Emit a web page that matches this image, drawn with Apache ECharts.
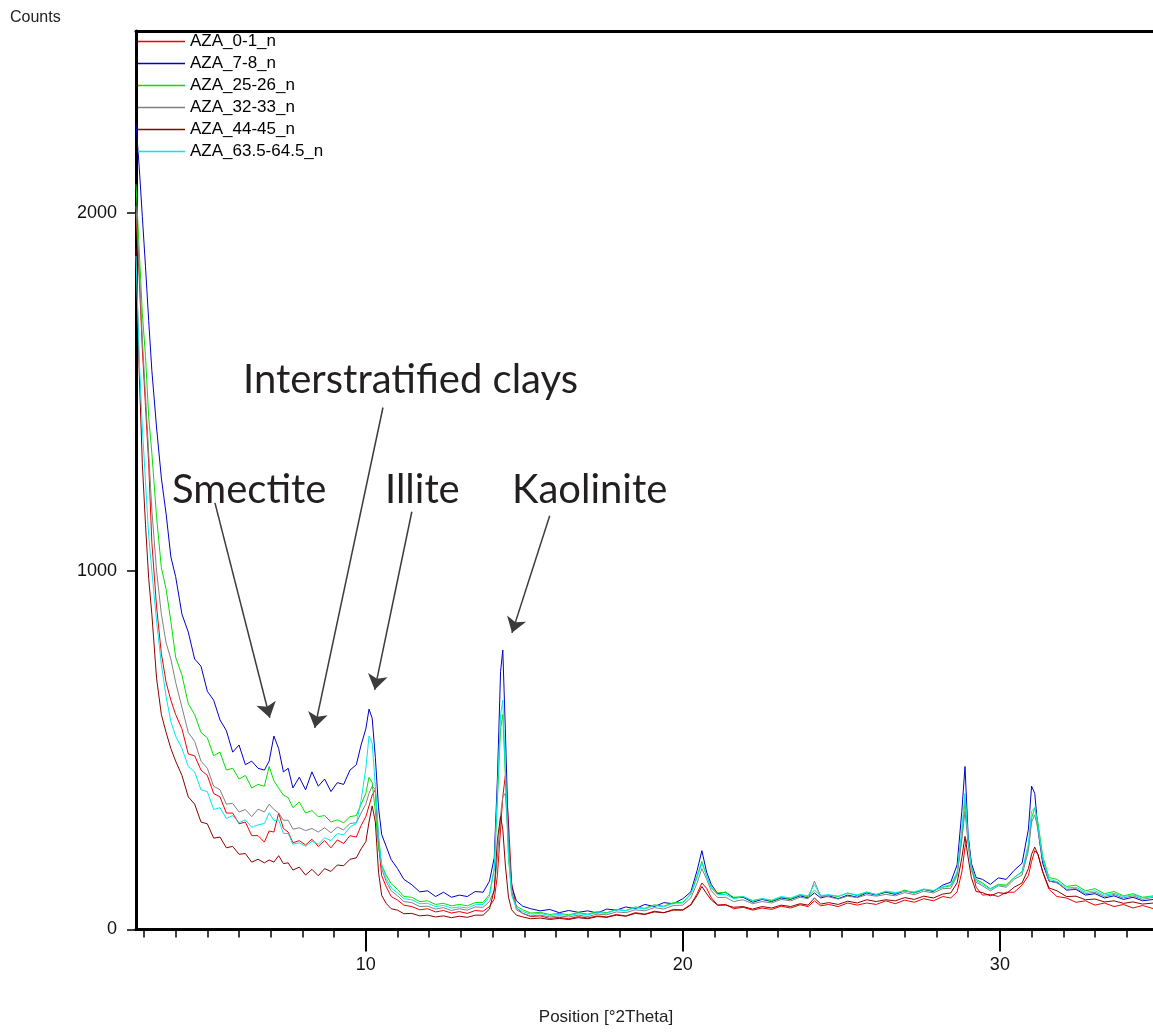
<!DOCTYPE html>
<html>
<head>
<meta charset="utf-8">
<title>XRD clays</title>
<script src="https://cdn.jsdelivr.net/npm/echarts@6.0.0/dist/echarts.min.js"></script>
<style>
    body { margin: 0; background: #fff; }
    #main { width: 1153px; height: 1032px; }
</style>
</head>
<body>
<div id="main"></div>
<script>
// position in degrees 2Theta, shared by all scans
var theta = [
    2.75, 2.85, 2.95, 3.05, 3.15, 3.25, 3.4, 3.55, 3.7, 3.85, 4.0,
    4.2, 4.4, 4.6, 4.8, 5.0, 5.2, 5.4, 5.6, 5.8, 6.0, 6.2, 6.4, 6.6, 6.8,
    6.95, 7.1, 7.25, 7.4, 7.55, 7.7, 7.9, 8.1, 8.3, 8.5, 8.7, 8.9, 9.1, 9.3, 9.5, 9.7, 9.85,
    10.0, 10.1, 10.2, 10.3, 10.4, 10.5, 10.65, 10.8, 11.0,
    11.2, 11.45, 11.7, 11.95, 12.2, 12.45, 12.7, 12.95, 13.2, 13.45, 13.7, 13.9,
    14.05, 14.15, 14.25, 14.32, 14.4, 14.5, 14.6, 14.75, 14.95,
    15.2, 15.5, 15.8, 16.1, 16.4, 16.7, 17.0, 17.3, 17.6, 17.9, 18.2, 18.5, 18.8, 19.1, 19.4, 19.7, 20.0,
    20.25, 20.45, 20.6, 20.75, 20.9, 21.1, 21.35, 21.6,
    21.9, 22.2, 22.5, 22.8, 23.1, 23.4, 23.7, 23.95,
    24.15, 24.35, 24.6, 24.9, 25.2, 25.5, 25.8, 26.1, 26.4, 26.7, 27.0, 27.3, 27.6, 27.9, 28.2, 28.45,
    28.65, 28.8, 28.9, 29.0, 29.1, 29.25, 29.45, 29.7, 29.95, 30.2, 30.45, 30.7,
    30.9, 31.0, 31.1, 31.2, 31.35, 31.55, 31.8,
    32.1, 32.4, 32.7, 33.0, 33.3, 33.6, 33.9, 34.2, 34.5, 34.85
]
var aza_0_1 = [
    2000, 1820, 1620, 1460, 1300, 1080, 900, 770, 690, 640, 600,
    560, 490, 485, 445, 430, 380, 370, 325, 325, 295, 300, 262, 262, 244,
    275, 272, 325, 282, 272, 242, 248, 236, 252, 232, 248, 228, 250, 240, 262, 258, 290,
    315, 345, 375, 390, 240, 150, 118, 92, 82,
    68, 64, 55, 58, 49, 53, 46, 50, 45, 53, 51, 64,
    85, 150, 280, 370, 430, 300, 130, 60, 45,
    36, 38, 31, 34, 30, 36, 32, 38, 35, 42, 38, 47, 43, 51, 47, 56, 55,
    70, 100, 130, 115, 88, 68, 70, 58,
    62, 54, 60, 56, 65, 60, 69, 64,
    80, 66, 70, 64, 74, 68, 74, 70, 80, 72, 82, 76, 86, 80, 92, 88,
    105, 160, 230, 260, 180, 118, 96, 98, 92, 104, 104, 124,
    150, 190, 220, 210, 160, 112, 92,
    88, 76, 80, 68, 74, 64, 70, 60, 67, 58
]
var aza_7_8 = [
    2250, 2130, 1990, 1850, 1700, 1560, 1400, 1260, 1160, 1040, 985,
    880, 830, 755, 735, 665, 640, 585, 555, 495, 515, 460, 470, 450, 445,
    470, 540, 505, 440, 450, 395, 425, 390, 440, 400, 420, 385, 410, 405, 445, 460, 515,
    560, 615, 590, 480, 340, 265, 230, 195, 170,
    140, 125, 105, 108, 92, 104, 90, 96, 92, 106, 104, 135,
    200, 420, 720, 780, 560, 250, 120, 80, 65,
    58, 52, 56, 47, 53, 48, 52, 46, 57, 54, 63, 58, 70, 64, 75, 72, 86,
    105, 165, 220, 160, 125, 100, 104, 88,
    90, 76, 84, 78, 88, 84, 94, 88,
    102, 88, 94, 86, 96, 90, 102, 96, 104, 98, 108, 102, 112, 106, 124, 132,
    180, 330, 455, 260, 185, 145, 140, 126, 144, 140, 165, 185,
    280, 400, 380, 280, 185, 135, 132,
    110, 112, 96, 100, 88, 94, 84, 90, 80, 84
]
var aza_25_26 = [
    2080, 1900, 1720, 1600, 1430, 1330, 1150, 1010, 950, 860, 760,
    710, 630, 600, 550, 535, 485, 495, 445, 450, 420, 430, 395, 405, 400,
    455, 415, 395, 375, 368, 340, 356, 325, 332, 315, 318, 300, 306, 298, 315, 318, 350,
    380, 425, 410, 330, 230, 180, 150, 128, 112,
    92, 90, 78, 80, 70, 73, 66, 70, 66, 75, 76, 98,
    170, 360, 560, 600, 430, 200, 100, 65, 55,
    46, 48, 42, 45, 41, 47, 43, 50, 47, 56, 53, 63, 59, 69, 65, 75, 76,
    100, 150, 190, 150, 118, 102, 104, 90,
    92, 80, 86, 80, 90, 86, 96, 92,
    110, 94, 96, 92, 102, 94, 104, 98, 106, 100, 110, 102, 112, 108, 118, 122,
    155, 260, 360, 240, 175, 140, 130, 114, 126, 124, 145, 162,
    230, 310, 340, 300, 205, 145, 140,
    120, 124, 108, 114, 100, 106, 94, 100, 90, 94
]
var aza_32_33 = [
    2020, 1850, 1650, 1490, 1330, 1170, 1000, 880, 800, 755, 690,
    620, 550, 525, 470, 450, 400, 390, 350, 352, 328, 335, 315, 336, 328,
    350, 335, 325, 305, 305, 280, 284, 276, 282, 272, 284, 270, 286, 278, 296, 298, 325,
    350, 380, 400, 390, 260, 170, 132, 108, 94,
    78, 75, 64, 65, 57, 61, 53, 58, 54, 63, 62, 78,
    110, 200, 320, 370, 380, 250, 110, 55, 45,
    38, 40, 35, 38, 35, 40, 36, 43, 41, 49, 47, 55, 52, 61, 57, 67, 68,
    88, 130, 170, 140, 108, 89, 90, 78,
    83, 72, 78, 74, 84, 80, 90, 86,
    135, 92, 91, 85, 93, 89, 97, 93, 98, 94, 103, 97, 107, 102, 114, 115,
    150, 250, 330, 240, 165, 132, 122, 108, 122, 118, 140, 152,
    220, 300, 320, 280, 195, 135, 130,
    112, 114, 100, 104, 92, 98, 88, 94, 84, 90
]
var aza_44_45 = [
    1900, 1560, 1300, 1130, 980, 880, 700, 600, 550, 505, 470,
    430, 370, 350, 300, 295, 255, 258, 228, 232, 210, 212, 188, 196, 186,
    194, 188, 206, 184, 186, 166, 174, 152, 168, 150, 170, 162, 180, 178, 196, 200, 225,
    245, 300, 345, 300, 160, 95, 72, 58, 54,
    44, 45, 38, 40, 35, 38, 33, 37, 34, 40, 40, 57,
    110, 250, 315, 280, 180, 90, 55, 40, 35,
    30, 32, 28, 31, 28, 33, 30, 36, 34, 40, 37, 45, 42, 49, 47, 54, 54,
    68, 95, 120, 100, 82, 68, 68, 62,
    64, 57, 64, 60, 68, 64, 72, 68,
    88, 71, 75, 70, 79, 74, 83, 78, 83, 80, 89, 84, 93, 88, 99, 102,
    130, 200, 260, 200, 145, 106, 103, 94, 103, 100, 118, 130,
    170, 210, 230, 210, 162, 116, 108,
    92, 93, 83, 85, 77, 80, 73, 77, 71, 74
]
var aza_63_64 = [
    1880, 1600, 1400, 1250, 1100, 1000, 860, 740, 650, 580, 540,
    505, 455, 440, 390, 385, 335, 340, 310, 318, 298, 306, 285, 292, 296,
    326, 304, 306, 268, 268, 238, 242, 232, 246, 238, 256, 248, 268, 264, 286, 296, 360,
    450, 540, 520, 400, 260, 180, 142, 116, 102,
    86, 83, 72, 73, 64, 67, 60, 63, 60, 69, 70, 92,
    170, 380, 600, 640, 450, 210, 95, 60, 50,
    43, 45, 39, 42, 39, 44, 41, 47, 45, 55, 52, 61, 57, 67, 63, 73, 74,
    98, 145, 185, 150, 115, 97, 98, 86,
    92, 81, 86, 82, 92, 88, 98, 94,
    125, 95, 97, 93, 101, 97, 105, 97, 107, 103, 107, 105, 113, 109, 119, 125,
    160, 280, 380, 250, 175, 136, 126, 112, 124, 122, 145, 160,
    240, 330, 340, 290, 200, 140, 134,
    116, 118, 104, 108, 96, 101, 92, 97, 88, 93
]
var sampleNames = ['AZA_0-1_n', 'AZA_7-8_n', 'AZA_25-26_n', 'AZA_32-33_n', 'AZA_44-45_n', 'AZA_63.5-64.5_n']
var sampleColors = ['#f00000', '#0000c8', '#00e000', '#808080', '#8b0000', '#00e8f0']
var xMinorTicks = [3, 4, 5, 6, 7, 8, 9, 10, 11, 12, 13, 14, 15, 16, 17, 18, 19, 20, 21, 22, 23, 24, 25, 26, 27, 28, 29, 30, 31, 32, 33, 34]
var xMajorTicks = [10, 20, 30]
var yTicks = [0, 1000, 2000]
// annotations: label, text anchor (px), arrow start and tip in data units
var noteLabels = ['Interstratified clays', 'Smectite', 'Illite', 'Kaolinite']
var notePos = [[243, 380], [172, 490], [385, 490], [512, 490]]
var arrowFrom = [[10.54, 1457], [5.24, 1191], [11.45, 1166], [15.80, 1155]]
var arrowTo = [[8.39, 563], [6.97, 591], [10.28, 669], [14.61, 828]]

$main()
function $main() {
    var scans = [aza_0_1, aza_7_8, aza_25_26, aza_32_33, aza_44_45, aza_63_64]
    var series = []
    for (var k = 0; k < scans.length; k++) {
        if (scans[k].length !== theta.length) throw new Error(sampleNames[k] + ' has ' + scans[k].length + ' points, theta has ' + theta.length)
        var pts = []
        for (var i = 0; i < theta.length; i++) pts.push([theta[i], scans[k][i]])
        series.push({
            name: sampleNames[k],
            type: 'line',
            data: pts,
            symbol: 'none',
            showSymbol: false,
            color: sampleColors[k],
            lineStyle: { width: 1, color: sampleColors[k] },
            emphasis: { disabled: true },
            animation: false
        })
    }
    var arrows = []
    for (var j = 0; j < arrowFrom.length; j++) {
        arrows.push([{ coord: arrowFrom[j] }, { coord: arrowTo[j] }])
    }
    series[series.length - 1].markLine = {
        silent: true,
        animation: false,
        symbol: ['none', 'arrow'],
        symbolSize: 15,
        label: { show: false },
        lineStyle: { color: '#3c3c3c', width: 1.5, type: 'solid' },
        emphasis: { disabled: true },
        data: arrows
    }

    var tickFont = { color: '#111', fontSize: 18, fontFamily: 'Liberation Sans' }
    var texts = [
        { type: 'text', x: 10, y: 18, style: { text: 'Counts', font: '16px "Liberation Sans"', fill: '#222', verticalAlign: 'middle', textVerticalAlign: 'middle' } },
        { type: 'text', x: 606, y: 1017, style: { text: 'Position [°2Theta]', font: '17px "Liberation Sans"', fill: '#222', align: 'center', textAlign: 'center', verticalAlign: 'middle', textVerticalAlign: 'middle' } }
    ]
    for (var n = 0; n < noteLabels.length; n++) {
        texts.push({
            type: 'text', x: notePos[n][0], y: notePos[n][1],
            style: { text: noteLabels[n], font: '40px Lato', fill: '#231f20', verticalAlign: 'middle', textVerticalAlign: 'middle' }
        })
    }

    var option = {
        backgroundColor: '#fff',
        animation: false,
        grid: { left: 136, top: 31, right: 0, bottom: 102.5 },
        legend: {
            orient: 'vertical',
            left: 138,
            top: 33,
            padding: 0,
            icon: 'rect',
            itemWidth: 47,
            itemHeight: 1.5,
            itemGap: 5,
            selectedMode: false,
            data: sampleNames,
            textStyle: { color: '#000', fontSize: 17, lineHeight: 17, fontFamily: 'Liberation Sans' }
        },
        xAxis: [
            {
                type: 'value', min: 2.75, max: 34.83, position: 'bottom',
                axisLine: { show: true, onZero: false, lineStyle: { color: '#000', width: 3 } },
                axisTick: { show: true, customValues: xMinorTicks, length: 8, lineStyle: { color: '#000', width: 1.5 } },
                axisLabel: { show: false },
                splitLine: { show: false }
            },
            {
                type: 'value', min: 2.75, max: 34.83, position: 'bottom',
                axisLine: { show: false },
                axisTick: { show: true, customValues: xMajorTicks, length: 22, lineStyle: { color: '#000', width: 2 } },
                axisLabel: Object.assign({ customValues: xMajorTicks, margin: 27 }, tickFont),
                splitLine: { show: false }
            },
            {
                type: 'value', min: 2.75, max: 34.83, position: 'top',
                axisLine: { show: true, lineStyle: { color: '#000', width: 3 } },
                axisTick: { show: false },
                axisLabel: { show: false },
                splitLine: { show: false }
            }
        ],
        yAxis: {
            type: 'value', min: 0, max: 2508,
            axisLine: { show: true, lineStyle: { color: '#000', width: 3 } },
            axisTick: { show: true, customValues: yTicks, length: 9, lineStyle: { color: '#000', width: 1.5 } },
            axisLabel: Object.assign({
                customValues: yTicks,
                margin: 19,
                formatter: function (v) { return String(v) }
            }, tickFont),
            splitLine: { show: false }
        },
        graphic: texts,
        series: series
    }
    var myChart = echarts.init(document.getElementById('main'))
    myChart.setOption(option)
}
</script>
</body>
</html>
